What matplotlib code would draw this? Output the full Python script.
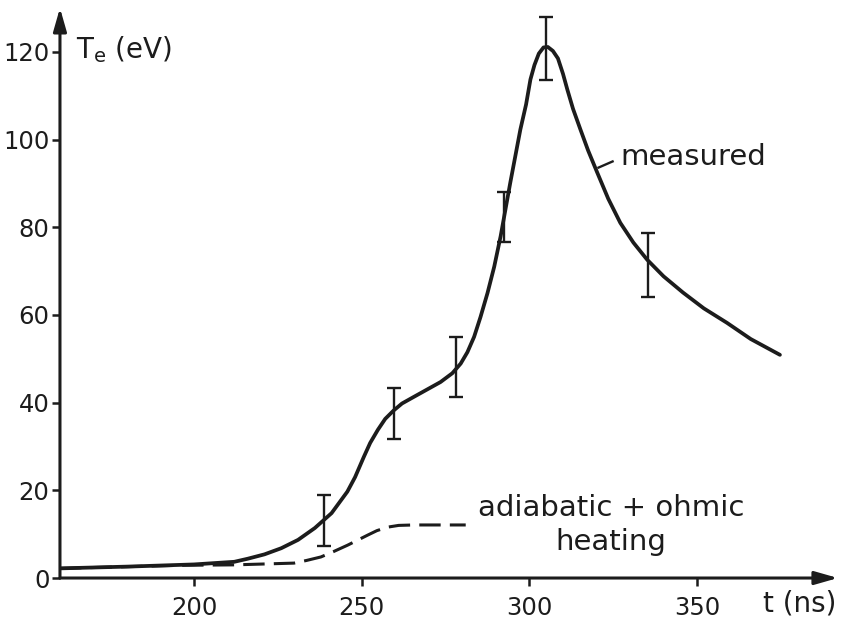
#
# Electron temperature vs time: measured curve and adiabatic + ohmic heating
#
import matplotlib
matplotlib.use("Agg")
import matplotlib.pyplot as plt
import numpy as np

### Measured curve (t in ns, Te in eV)
t_meas = [160, 180, 200, 212, 216, 221, 226, 231, 236, 241, 245.7, 248,
          250.6, 252.5, 254.8, 257, 259.5, 262, 265.5, 269.5, 273.5, 277,
          279.5, 281.5, 283.5, 285.4, 287.5, 289.5, 291.4, 294.3, 297.3,
          299, 300.3, 301.5, 302.8, 304.2, 305.5, 307, 308.5, 310, 311.3,
          313, 315.2, 317.5, 320.2, 323.5, 327.1, 331, 335.1, 340, 345.8,
          352, 358.9, 366, 374.7]
Te_meas = [2.2, 2.6, 3.1, 3.7, 4.4, 5.4, 6.8, 8.7, 11.4, 14.8, 19.7, 23.0,
           27.6, 30.8, 33.8, 36.3, 38.2, 39.8, 41.3, 43.0, 44.7, 46.7,
           48.9, 51.5, 55.0, 59.5, 65.0, 71.0, 77.9, 90.2, 102.3,
           108.0, 113.7, 117.0, 119.6, 121.0, 121.1, 120.2, 118.5, 115.0, 111.4,
           107.0, 102.3, 97.5, 92.5, 86.5, 81.0, 76.5, 72.6, 68.8, 65.1,
           61.5, 58.2, 54.5, 50.9]

### Error bars
t_err = [238.7, 259.5, 278, 292.3, 304.8, 335.3]
Te_err = [13.2, 38.0, 47.6, 82.4, 121.0, 71.9]
Te_low = [7.2, 31.7, 41.3, 76.7, 113.5, 64.2]
Te_high = [19.0, 43.4, 55.0, 88.1, 128.0, 78.7]

### Adiabatic + ohmic heating (dashed)
t_heat = [160, 196, 212, 229.8, 233.5, 237.8, 241.5, 245.8, 251.8, 254.5,
          257.7, 261, 265.5, 281]
Te_heat = [2.2, 2.9, 3.0, 3.4, 4.0, 4.8, 6.0, 7.5, 9.8, 10.8,
           11.6, 12.0, 12.1, 12.1]

x_ticks = [200, 250, 300, 350]
y_ticks = [0, 20, 40, 60, 80, 100, 120]

ink = "#1c1c1c"

fig = plt.figure(figsize=(8.47, 6.23), dpi=100)
ax = fig.add_axes([0.0708, 0.0722, 0.9185, 0.915])

ax.plot(t_meas, Te_meas, color=ink, lw=2.7, solid_joinstyle="round",
        solid_capstyle="round")
ax.plot(t_heat, Te_heat, color=ink, lw=2.2, dashes=(7, 3))

yerr = [np.array(Te_err) - np.array(Te_low), np.array(Te_high) - np.array(Te_err)]
ax.errorbar(t_err, Te_err, yerr=yerr, fmt="none", ecolor=ink, elinewidth=1.7,
            capsize=4.8, capthick=1.7)

ax.set_xlim(160, 392)
ax.set_ylim(0, 130)

### Axes drawn as arrows
for s in ax.spines.values():
    s.set_visible(False)
arrow = dict(arrowstyle="-|>,head_length=0.7,head_width=0.2", lw=2.2,
             color=ink, mutation_scale=20, shrinkA=0, shrinkB=0)
ax.annotate("", xy=(1, 0), xytext=(0, 0), xycoords="axes fraction",
            arrowprops=arrow)
ax.annotate("", xy=(0, 1), xytext=(0, 0), xycoords="axes fraction",
            arrowprops=arrow)

ax.set_xticks(x_ticks)
ax.set_yticks(y_ticks)
ax.tick_params(direction="out", length=6, width=1.8, color=ink,
               labelcolor=ink, labelsize=17.5)
ax.tick_params(axis="x", pad=7)
ax.tick_params(axis="y", pad=1.5)

### Labels
ax.text(164.9, 120.5, r"T$_\mathrm{e}$ (eV)", fontsize=20, color=ink,
        va="center", ha="left")
ax.text(369.6, -5.7, "t (ns)", fontsize=20, color=ink, va="center",
        ha="left", clip_on=False)

ax.plot([320.6, 324.8], [93.6, 95.0], color=ink, lw=1.7)
ax.text(327.2, 96.1, "measured", fontsize=21, color=ink, va="center",
        ha="left")
ax.text(324.4, 12.1, "adiabatic + ohmic\nheating", fontsize=21, color=ink,
        va="center", ha="center", linespacing=1.25)

fig.savefig("out.png", dpi=100)
